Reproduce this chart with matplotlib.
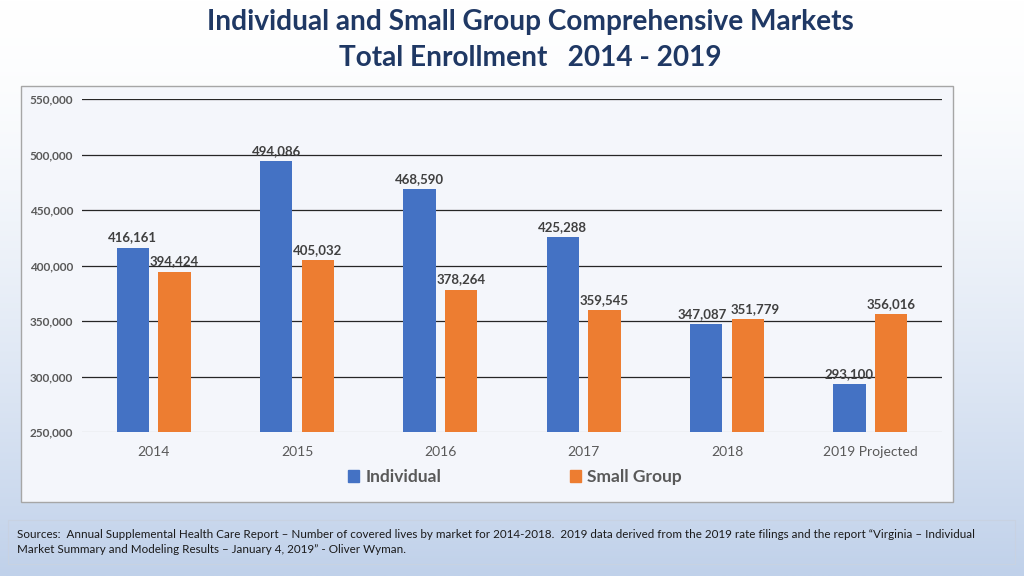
import numpy as np
import matplotlib
matplotlib.use("Agg")
import matplotlib.pyplot as plt
from matplotlib.patches import Rectangle, Patch

# ── Data ──────────────────────────────────────────────────────────────────────
years = ["2014", "2015", "2016", "2017", "2018", "2019 Projected"]
individual = [416161, 494086, 468590, 425288, 347087, 293100]
small_group = [394424, 405032, 378264, 359545, 351779, 356016]
y_ticks = [250000, 300000, 350000, 400000, 450000, 500000, 550000]

BLUE = "#4472C4"
ORANGE = "#ED7D31"
TITLE_COLOR = "#1F3864"
TEXT_GRAY = "#595959"
LABEL_GRAY = "#404040"

plt.rcParams["font.family"] = ["Lato", "DejaVu Sans"]

fig = plt.figure(figsize=(10.24, 5.76), dpi=100)

# background gradient: white at top -> light blue at bottom
bg = fig.add_axes([0, 0, 1, 1], zorder=-10)
grad = np.linspace(0, 1, 256)[:, None]
top = np.array([1.0, 1.0, 1.0])
bottom = np.array([0xC0, 0xD1, 0xEA]) / 255
img = top + (bottom - top) * grad ** 1.5
bg.imshow(img[:, None, :].repeat(2, axis=1), aspect="auto", extent=[0, 1, 0, 1])
bg.set_axis_off()

# chart frame
fig.patches.append(Rectangle((0.0205, 0.1285), 0.9102, 0.7222, transform=fig.transFigure,
                             facecolor="#F4F6FB", edgecolor="#A6A6A6", lw=1.0, zorder=-5))
# sources frame
fig.patches.append(Rectangle((0.008, 0.021), 0.983, 0.076, transform=fig.transFigure,
                             facecolor="none", edgecolor="#C8D2E2", lw=0.8, zorder=-5))

ax = fig.add_axes([0.0801, 0.25, 0.8398, 0.578])
ax.set_facecolor("none")

x = np.arange(len(years))
w = 0.225
off = 0.145
b1 = ax.bar(x - off, individual, w, color=BLUE, zorder=3)
b2 = ax.bar(x + off, small_group, w, color=ORANGE, zorder=3)

# small horizontal nudges (points) where labels would collide
nudge = {(0, 4): -3, (1, 4): 5}
for si, (bars, vals) in enumerate(((b1, individual), (b2, small_group))):
    for i, (rect, v) in enumerate(zip(bars, vals)):
        ax.annotate(f"{v:,}", (rect.get_x() + rect.get_width() / 2, v),
                    xytext=(nudge.get((si, i), 0), 3), textcoords="offset points",
                    ha="center", va="bottom", fontsize=9.5, fontweight="bold",
                    color=LABEL_GRAY, zorder=4)

ax.set_xlim(-0.5, len(years) - 0.5)
ax.set_ylim(250000, 550000)
ax.set_yticks(y_ticks)
ax.set_yticklabels([f"{t:,}" for t in y_ticks], fontsize=8.5, fontweight="bold",
                   color=TEXT_GRAY)
ax.set_xticks(x)
ax.set_xticklabels(years, fontsize=10, color=TEXT_GRAY)
ax.tick_params(axis="both", length=0)
ax.tick_params(axis="y", pad=6.5)
ax.tick_params(axis="x", pad=10)
for t in y_ticks[1:]:
    ax.axhline(t, color="#262626", lw=0.9, zorder=1)
ax.axhline(250000, color="#D9D9D9", lw=1.0, zorder=1)
for s in ax.spines.values():
    s.set_visible(False)

handles = [Patch(color=BLUE, label="Individual"), Patch(color=ORANGE, label="Small Group")]
fig.legend(handles=handles, loc="center", bbox_to_anchor=(0.503, 0.172), ncol=2,
           frameon=False, handlelength=0.65, handleheight=0.65, handletextpad=0.35,
           columnspacing=7.4, prop={"size": 12.5, "weight": "bold"},
           labelcolor=TEXT_GRAY)

fig.text(0.518, 0.962, "Individual and Small Group Comprehensive Markets",
         ha="center", va="center", fontsize=20.2, fontweight="bold", color=TITLE_COLOR)
fig.text(0.518, 0.899, "Total Enrollment   2014 - 2019",
         ha="center", va="center", fontsize=20.2, fontweight="bold", color=TITLE_COLOR)

src = ("Sources:  Annual Supplemental Health Care Report \u2013 Number of covered lives by market "
       "for 2014-2018.  2019 data derived from the 2019 rate filings and the report \u201cVirginia \u2013 "
       "Individual\nMarket Summary and Modeling Results \u2013 January 4, 2019\u201d - Oliver Wyman.")
fig.text(0.017, 0.059, src, ha="left", va="center", fontsize=8.4, color="#1a1a1a",
         linespacing=1.55)

fig.savefig("out.png", dpi=100)
